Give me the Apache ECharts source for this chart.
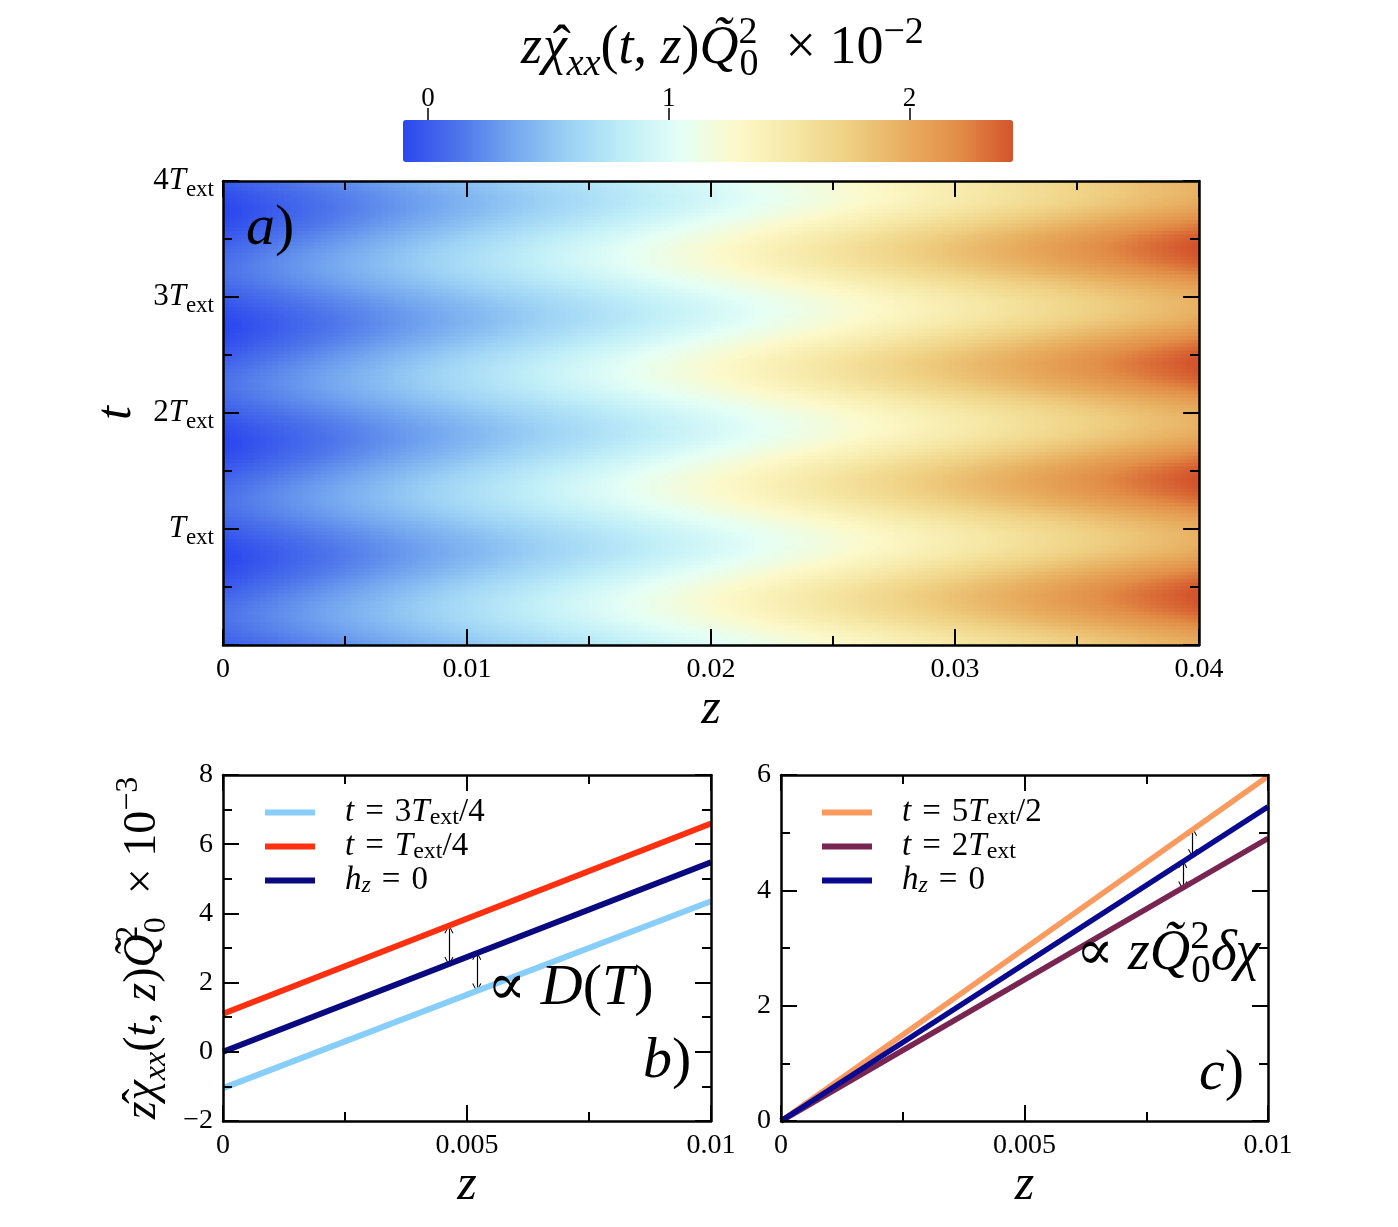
<!DOCTYPE html>
<html>
<head>
<meta charset="utf-8">
<title>chi_xx</title>
<script src="https://cdn.jsdelivr.net/npm/echarts@6.0.0/dist/echarts.min.js"></script>
<style>
    html, body { margin: 0; padding: 0; background: #fff; }
    #main { width: 1398px; height: 1227px; }
</style>
</head>
<body>
<div id="main"></div>
<script type="text/javascript">
    // panel a) : value (x 10^-2) read at z = 0 and z = 0.04, one period of T_ext in T_ext/32 steps
    var heatLeft = [0.00, 0.02, 0.04, 0.06, 0.08, 0.09, 0.10, 0.11, 0.11, 0.11, 0.10, 0.09, 0.08, 0.06, 0.04, 0.02,
        0.00, -0.02, -0.04, -0.06, -0.08, -0.09, -0.10, -0.11, -0.11, -0.11, -0.10, -0.09, -0.08, -0.06, -0.04, -0.02];
    var heatRight = [1.98, 2.01, 2.04, 2.08, 2.12, 2.17, 2.22, 2.27, 2.31, 2.35, 2.39, 2.41, 2.43, 2.44, 2.45, 2.44,
        2.42, 2.40, 2.36, 2.32, 2.28, 2.23, 2.18, 2.14, 2.09, 2.05, 2.01, 1.99, 1.97, 1.96, 1.96, 1.96];
    var periods = 4;
    var zMaxA = 0.04;
    var zCells = 160;

    // colour bar
    var cbMin = -0.104, cbMax = 2.43;
    var cbTicks = [0, 1, 2];
    var cbColors = ['#2b48ee', '#4d74ea', '#74a8ef', '#9dd2f5', '#bfeef8', '#e4fff6',
        '#fcf9ca', '#f6e8a6', '#efd184', '#e8b062', '#e28f48', '#d4542c'];

    // panels b) and c) : straight lines, value (x 10^-3) at z = 0 and z = 0.01
    var zEnds = [0, 0.01];
    var b3q = [-1.05, 4.35];   // t = 3T/4
    var b1q = [1.10, 6.60];    // t = T/4
    var bH0 = [0.00, 5.48];    // h_z = 0
    var c5h = [0.00, 5.98];    // t = 5T/2
    var c2T = [0.00, 4.90];    // t = 2T
    var cH0 = [0.00, 5.45];    // h_z = 0

    var SERIF = '"Liberation Serif", "DejaVu Serif", serif';

    function mrich(s, lhf, subf) {
        var lh = Math.round(s * (lhf || 1.3));
        var ss = Math.round(s * (subf || 0.7));
        return {
            n: {fontFamily: SERIF, fontSize: s, lineHeight: lh, color: '#000'},
            i: {fontFamily: SERIF, fontSize: s, fontStyle: 'italic', lineHeight: lh, color: '#000'},
            hat: {fontFamily: SERIF, fontSize: s, lineHeight: lh, width: 1, color: '#000'},
            sub: {fontFamily: SERIF, fontSize: ss, lineHeight: ss, verticalAlign: 'bottom', color: '#000'},
            subi: {fontFamily: SERIF, fontSize: ss, fontStyle: 'italic', lineHeight: ss, verticalAlign: 'bottom', color: '#000'},
            sup: {fontFamily: SERIF, fontSize: ss, lineHeight: ss, verticalAlign: 'top', color: '#000'},
            sup0: {fontFamily: SERIF, fontSize: ss, lineHeight: ss, verticalAlign: 'top', width: 1, color: '#000'},
            gap: {width: 25}
        };
    }

    function rowsOfData(xs, ys) {
        return xs.map(function (x, k) { return [x, ys[k]]; });
    }

    // heat cells
    var heatData = [];
    var nRows = periods * heatLeft.length;
    for (var r = 0; r <= nRows; r++) {
        var k = r % heatLeft.length;
        var t = r / heatLeft.length;
        for (var j = 0; j < zCells; j++) {
            var z = (j + 0.5) * zMaxA / zCells;
            heatData.push([z, t, heatLeft[k] + (heatRight[k] - heatLeft[k]) * z / zMaxA]);
        }
    }
    var dz = zMaxA / zCells, dt = 1 / heatLeft.length;

    function renderCell(params, api) {
        var cs = params.coordSys;
        var p0 = api.coord([api.value(0) - dz / 2, api.value(1) + dt / 2]);
        var p1 = api.coord([api.value(0) + dz / 2, api.value(1) - dt / 2]);
        var x0 = Math.max(p0[0], cs.x), x1 = Math.min(p1[0] + 1, cs.x + cs.width);
        var y0 = Math.max(p0[1], cs.y), y1 = Math.min(p1[1] + 1, cs.y + cs.height);
        return {
            type: 'rect',
            shape: {x: x0, y: y0, width: x1 - x0, height: y1 - y0},
            style: {fill: api.visual('color'), stroke: null}
        };
    }

    var tickStyle = {color: '#000', width: 2};
    function boxAxis(extra) {
        var a = {
            type: 'value',
            z: 10,
            axisLine: {show: true, onZero: false, lineStyle: {color: '#000', width: 2.5}},
            axisTick: {show: true, inside: true, length: 16, lineStyle: tickStyle},
            minorTick: {show: true, splitNumber: 2, length: 9, lineStyle: tickStyle},
            splitLine: {show: false},
            minorSplitLine: {show: false},
            axisLabel: {show: false}
        };
        for (var key in extra) a[key] = extra[key];
        return a;
    }
    var labelStyle = {show: true, color: '#000', fontFamily: SERIF, fontSize: 28, margin: 11};
    function numLabel(extra) {
        var l = {};
        for (var key in labelStyle) l[key] = labelStyle[key];
        for (var key2 in extra) l[key2] = extra[key2];
        return l;
    }
    var zName = {fontFamily: SERIF, fontStyle: 'italic', fontSize: 50, color: '#000'};

    var chiHat = '{hat|\u2009\u02c6}{i|χ}{subi|xx}';
    var yNameBC = '{i|z}' + chiHat + '{n|(}{i|t}{n|, }{i|z}{n|)}{i|Q\u0303}{sup0|2}{sub|0}{n|  × 10}{sup|−3}';
    var titleText = '{i|z}' + chiHat + '{n|(}{i|t}{n|, }{i|z}{n|)}{i|Q\u0303}{sup0|2}{sub|0}{n|  × 10}{sup|−2}';

    var legendRich = mrich(33, 1.06, 0.72);
    var EQ = '\u2004=\u2004';
    var legendNames = {
        b1: '{gap|}{i|t}{n|' + EQ + '3}{i|T}{sub|ext}{n|/4}',
        b2: '{gap|}{i|t}{n|' + EQ + '}{i|T}{sub|ext}{n|/4}',
        b3: '{gap|}{i|h}{subi|z}{n|' + EQ + '0}',
        c1: '{gap|}{i|t}{n|' + EQ + '5}{i|T}{sub|ext}{n|/2}',
        c2: '{gap|}{i|t}{n|' + EQ + '2}{i|T}{sub|ext}',
        c3: '{gap|}{i|h}{subi|z}{n|' + EQ + '0}'
    };

    var arrowSym = 'path://M0,10 L5,0 L10,10 L9,10.6 L5,2.2 L1,10.6 Z';
    function arrows(pairs) {
        return {
            silent: true,
            symbol: [arrowSym, arrowSym],
            symbolSize: [9, 9],
            label: {show: false},
            lineStyle: {color: '#000', width: 1.2, type: 'solid'},
            emphasis: {disabled: true},
            data: pairs.map(function (p) {
                return [{coord: [p[0], p[1]]}, {coord: [p[0], p[2]]}];
            })
        };
    }
    // arrows: [z, from, to]
    var arrowsB = [[0.00463, 3.55, 2.62], [0.0052, 2.78, 1.85]];
    var arrowsC = [[0.00845, 5.02, 4.64], [0.00825, 4.46, 4.08]];

    function line(name, color, ys, xi, w, mark) {
        var s = {
            name: name,
            type: 'line',
            xAxisIndex: xi,
            yAxisIndex: xi,
            data: rowsOfData(zEnds, ys),
            symbol: 'none',
            color: color,
            lineStyle: {color: color, width: w},
            itemStyle: {color: color},
            z: 5
        };
        if (mark) s.markLine = mark;
        return s;
    }

    var option = {
        animation: false,
        backgroundColor: '#fff',
        grid: [
            {left: 223, top: 181, width: 976, height: 464},
            {left: 223, top: 775, width: 488, height: 346},
            {left: 781, top: 775, width: 487, height: 346},
            {left: 403, top: 120, width: 610, height: 42}
        ],
        xAxis: [
            boxAxis({gridIndex: 0, position: 'bottom', min: 0, max: 0.04, interval: 0.01,
                axisLabel: numLabel({}), name: 'z', nameLocation: 'middle', nameGap: 20, nameTextStyle: zName}),
            boxAxis({gridIndex: 0, position: 'top', min: 0, max: 0.04, interval: 0.01}),
            boxAxis({gridIndex: 1, position: 'bottom', min: 0, max: 0.01, interval: 0.005,
                axisLabel: numLabel({}), name: 'z', nameLocation: 'middle', nameGap: 23, nameTextStyle: zName}),
            boxAxis({gridIndex: 1, position: 'top', min: 0, max: 0.01, interval: 0.005}),
            boxAxis({gridIndex: 2, position: 'bottom', min: 0, max: 0.01, interval: 0.005,
                axisLabel: numLabel({}), name: 'z', nameLocation: 'middle', nameGap: 23, nameTextStyle: zName}),
            boxAxis({gridIndex: 2, position: 'top', min: 0, max: 0.01, interval: 0.005}),
            {
                type: 'value', gridIndex: 3, position: 'top', min: cbMin, max: cbMax, z: 10,
                axisLine: {show: true, onZero: false, lineStyle: {color: '#000', opacity: 0}},
                axisTick: {show: true, inside: false, length: 12, customValues: cbTicks, lineStyle: {color: '#000', width: 1.5}},
                axisLabel: {show: true, customValues: cbTicks, color: '#000', fontFamily: SERIF, fontSize: 27, margin: 8},
                splitLine: {show: false}
            }
        ],
        yAxis: [
            boxAxis({gridIndex: 0, position: 'left', min: 0, max: 4, interval: 1,
                axisLabel: numLabel({
                    margin: 9,
                    formatter: function (v) {
                        if (v === 0) return '';
                        return (v === 1 ? '' : '{n|' + v + '}') + '{i|T}{sub|ext}';
                    },
                    rich: mrich(31, 1.3, 0.75)
                }),
                name: 't', nameLocation: 'middle', nameGap: 80, nameRotate: 90,
                nameTextStyle: {fontFamily: SERIF, fontStyle: 'italic', fontSize: 50, color: '#000'}}),
            boxAxis({gridIndex: 0, position: 'right', min: 0, max: 4, interval: 1}),
            boxAxis({gridIndex: 1, position: 'left', min: -2, max: 8, interval: 2,
                axisLabel: numLabel({
                    margin: 10,
                    formatter: function (v) { return v < 0 ? '\u2212' + Math.abs(v) : String(v); }
                }),
                name: yNameBC, nameLocation: 'middle', nameGap: 50, nameRotate: 90,
                nameTextStyle: {rich: mrich(46)}}),
            boxAxis({gridIndex: 1, position: 'right', min: -2, max: 8, interval: 2}),
            boxAxis({gridIndex: 2, position: 'left', min: 0, max: 6, interval: 2,
                axisLabel: numLabel({margin: 10})}),
            boxAxis({gridIndex: 2, position: 'right', min: 0, max: 6, interval: 2}),
            {type: 'value', gridIndex: 3, show: false, min: 0, max: 1}
        ],
        visualMap: {
            type: 'continuous',
            seriesIndex: 0,
            dimension: 2,
            min: cbMin,
            max: cbMax,
            orient: 'horizontal',
            left: 403,
            top: 120,
            itemWidth: 42,
            itemHeight: 610,
            padding: 0,
            calculable: false,
            hoverLink: false,
            inRange: {color: cbColors}
        },
        legend: [
            {
                data: ['b1', 'b2', 'b3'], orient: 'vertical', left: 260, top: 791,
                itemWidth: 50, itemHeight: 6, itemGap: 0, icon: 'rect', selectedMode: false,
                formatter: function (n) { return legendNames[n]; },
                textStyle: {rich: legendRich}
            },
            {
                data: ['c1', 'c2', 'c3'], orient: 'vertical', left: 817, top: 791,
                itemWidth: 50, itemHeight: 6, itemGap: 0, icon: 'rect', selectedMode: false,
                formatter: function (n) { return legendNames[n]; },
                textStyle: {rich: legendRich}
            }
        ],
        series: [
            {
                type: 'custom',
                xAxisIndex: 0,
                yAxisIndex: 0,
                renderItem: renderCell,
                data: heatData,
                silent: true,
                z: 1
            },
            line('b1', '#87cefa', b3q, 2, 6),
            line('b2', '#ff3010', b1q, 2, 6),
            line('b3', '#0a0a80', bH0, 2, 6, arrows(arrowsB)),
            line('c1', '#fa9a5e', c5h, 4, 5.5),
            line('c2', '#782552', c2T, 4, 5.5),
            line('c3', '#0a0a90', cH0, 4, 5.5, arrows(arrowsC))
        ],
        graphic: [
            {type: 'text', left: 521, top: 14, z: 100,
                style: {text: titleText, rich: mrich(54)}},
            {type: 'text', left: 246, top: 200, z: 100,
                style: {text: '{i|a}{n|)}', rich: mrich(58)}},
            {type: 'text', left: 487, top: 960, z: 100,
                style: {text: '{n|∝ }{i|D}{n|(}{i|T}{n|)}', rich: mrich(58)}},
            {type: 'text', left: 643, top: 1033, z: 100,
                style: {text: '{i|b}{n|)}', rich: mrich(58)}},
            {type: 'text', left: 1076, top: 918, z: 100,
                style: {text: '{n|∝ }{i|zQ\u0303}{sup0|2}{sub|0}{i|δχ}', rich: mrich(56)}},
            {type: 'text', left: 1199, top: 1045, z: 100,
                style: {text: '{i|c}{n|)}', rich: mrich(58)}}
        ]
    };

    var chart = echarts.init(document.getElementById('main'));
    chart.setOption(option);
</script>
</body>
</html>
